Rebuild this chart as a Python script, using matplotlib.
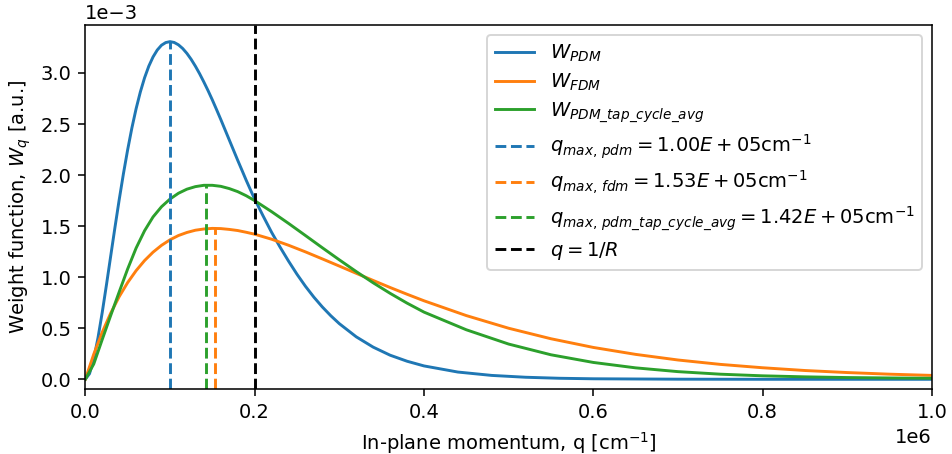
import numpy as np
import matplotlib
matplotlib.use("Agg")
import matplotlib.pyplot as plt

# In-plane momentum (units of 1e6 cm^-1)
q = [0.00, 0.01, 0.02, 0.03, 0.04, 0.05, 0.06, 0.07, 0.08, 0.09,
     0.10, 0.11, 0.12, 0.13, 0.14, 0.15, 0.16, 0.17, 0.18, 0.19,
     0.20, 0.22, 0.24, 0.26, 0.28, 0.30, 0.32, 0.34, 0.36, 0.38,
     0.40, 0.45, 0.50, 0.55, 0.60, 0.65, 0.70, 0.75, 0.80, 0.85,
     0.90, 0.95, 1.00]

# denser grid for the sharp PDM curve
q_pdm = [0.000, 0.005, 0.010, 0.015, 0.020, 0.025, 0.030, 0.035, 0.040, 0.045,
         0.050, 0.055, 0.060, 0.065, 0.070, 0.075, 0.080, 0.085, 0.090, 0.095,
         0.100, 0.105, 0.110, 0.115, 0.120, 0.125, 0.130, 0.135, 0.140, 0.145,
         0.150, 0.155, 0.160, 0.165, 0.170, 0.175, 0.180, 0.185, 0.190, 0.195,
         0.200, 0.210, 0.220, 0.230, 0.240, 0.250, 0.260, 0.270, 0.280, 0.290,
         0.300, 0.320, 0.340, 0.360, 0.380, 0.400, 0.440, 0.480, 0.520, 0.560,
         0.600, 0.700, 0.800, 0.900, 1.000]

# Weight functions (units of 1e-3 a.u.)
w_pdm = [0.000, 0.055, 0.200, 0.407, 0.655, 0.926, 1.207, 1.486, 1.757, 2.012,
         2.247, 2.461, 2.650, 2.814, 2.953, 3.067, 3.157, 3.225, 3.272, 3.298,
         3.307, 3.299, 3.276, 3.240, 3.192, 3.134, 3.067, 2.993, 2.912, 2.827,
         2.737, 2.642, 2.545, 2.445, 2.345, 2.245, 2.145, 2.048, 1.950, 1.857,
         1.765, 1.600, 1.440, 1.295, 1.158, 1.029, 0.911, 0.804, 0.708, 0.622,
         0.545, 0.416, 0.315, 0.236, 0.177, 0.131, 0.071, 0.038, 0.020, 0.010,
         0.005, 0.001, 0.000, 0.000, 0.000]

w_fdm = [0.000, 0.246, 0.461, 0.648, 0.809, 0.947, 1.064, 1.163, 1.245, 1.312,
         1.366, 1.408, 1.438, 1.460, 1.472, 1.478, 1.476, 1.468, 1.457, 1.440,
         1.421, 1.372, 1.313, 1.248, 1.179, 1.109, 1.038, 0.968, 0.899, 0.833,
         0.769, 0.624, 0.500, 0.397, 0.312, 0.244, 0.189, 0.146, 0.113, 0.086,
         0.066, 0.050, 0.038]

w_avg = [0.000, 0.150, 0.390, 0.625, 0.855, 1.080, 1.285, 1.455, 1.590, 1.690,
         1.765, 1.822, 1.862, 1.887, 1.900, 1.900, 1.890, 1.868, 1.838, 1.798,
         1.750, 1.642, 1.527, 1.408, 1.288, 1.170, 1.055, 0.945, 0.842, 0.746,
         0.658, 0.485, 0.345, 0.240, 0.165, 0.112, 0.075, 0.050, 0.034, 0.024,
         0.017, 0.013, 0.010]

# Peak positions (cm^-1) and 1/R
q_max = [1.00e5, 1.53e5, 1.42e5]
q_R = 2.0e5

labels = [r'$W_{PDM}$', r'$W_{FDM}$', r'$W_{PDM\_tap\_cycle\_avg}$']
qmax_labels = [r'$q_{max,\,pdm} = 1.00E+05\mathrm{cm}^{-1}$',
               r'$q_{max,\,fdm} = 1.53E+05\mathrm{cm}^{-1}$',
               r'$q_{max,\,pdm\_tap\_cycle\_avg} = 1.42E+05\mathrm{cm}^{-1}$']
colors = ['#1f77b4', '#ff7f0e', '#2ca02c']

DPI = 140
fig = plt.figure(figsize=(952/DPI, 454/DPI), dpi=DPI)
ax = fig.add_axes([85.3/952, 1 - 389.3/454, (932 - 85.3)/952, (389.3 - 25)/454])

xs = [np.array(q_pdm) * 1e6, np.array(q) * 1e6, np.array(q) * 1e6]
series = [np.array(w_pdm) * 1e-3, np.array(w_fdm) * 1e-3, np.array(w_avg) * 1e-3]

ylo, yhi = -0.098e-3, 3.47e-3
for x, s, lab, c in zip(xs, series, labels, colors):
    ax.plot(x, s, color=c, label=lab)
for x, s, qm, lab, c in zip(xs, series, q_max, qmax_labels, colors):
    top = np.interp(qm, x, s)
    ax.plot([qm, qm], [ylo, top], '--', color=c, label=lab)
ax.axvline(q_R, color='black', linestyle='--', label=r'$q = 1/R$')

ax.set_xlim(0, 1e6)
ax.set_ylim(ylo, yhi)
ax.ticklabel_format(axis='y', style='sci', scilimits=(0, 0))
ax.set_xlabel(r'In-plane momentum, q [cm$^{-1}$]')
ax.set_ylabel(r'Weight function, $W_q$ [a.u.]')
ax.legend(loc='upper right', labelspacing=0.4)

fig.savefig('out.png', dpi=DPI)
